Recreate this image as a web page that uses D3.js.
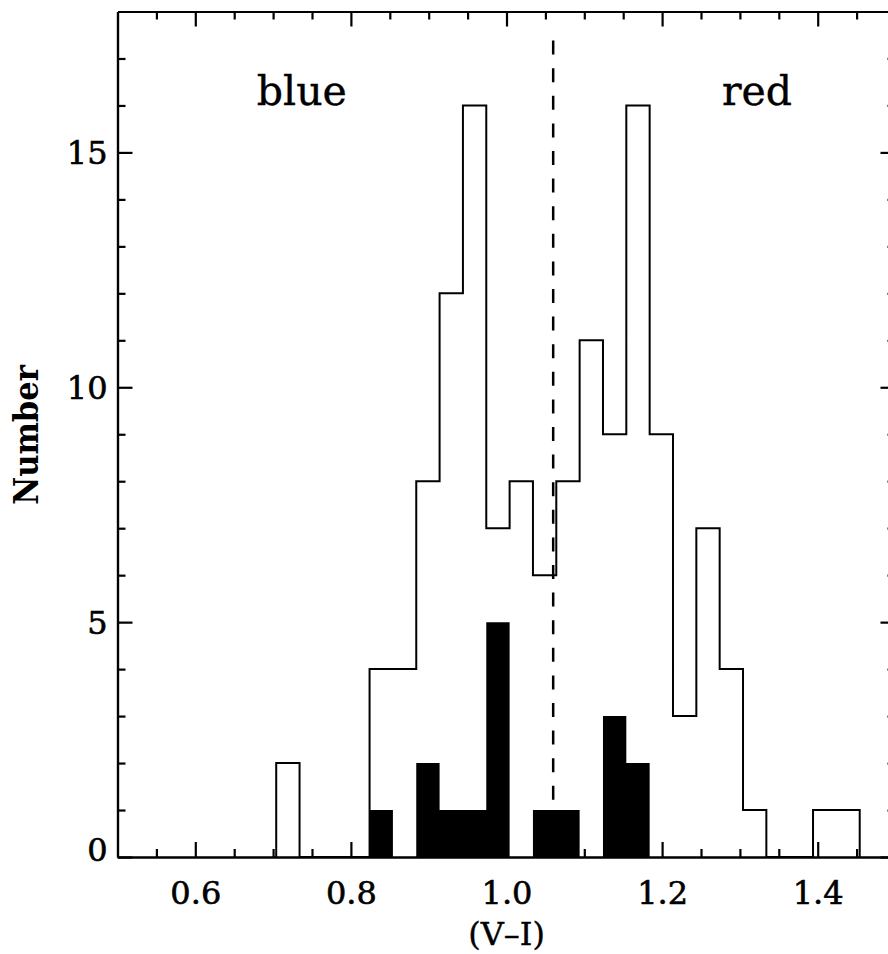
<!DOCTYPE html>
<html>
<head>
<meta charset="utf-8">
<script src="https://cdn.jsdelivr.net/npm/d3@7"></script>
<style>
    body { margin: 0; background: #fff; }
    svg { display: block; }
</style>
</head>
<body>
<div id="chart"></div>
<script>
// histogram bins: left edges of (V-I) bins, width 0.03
const binStart = 0.704;
const binWidth = 0.03;
const allCounts = [2, 0, 0, 0, 4, 4, 8, 12, 16, 7, 8, 6, 8, 11, 9, 16, 9, 3, 7, 4, 1, 0, 0, 1, 1];
const subCounts = [0, 0, 0, 0, 1, 0, 2, 1, 1, 5, 0, 1, 1, 0, 3, 2, 0, 0, 0, 0, 0, 0, 0, 0, 0];

const xMajorTicks = [0.6, 0.8, 1.0, 1.2, 1.4];
const yMajorTicks = [0, 5, 10, 15];
const divider = 1.06;
const dividerSpan = [1.15, 17.38];
const groupLabels = [
    { text: "blue", x: 0.737, y: 16 },
    { text: "red", x: 1.322, y: 16 }
];

const width = 888, height = 954;
const padding = { l: 117.5, t: 11.5, r: 895.5, b: 857 };

const x = d3.scaleLinear().domain([0.5, 1.5]).range([padding.l, padding.r]);
const y = d3.scaleLinear().domain([0, 18]).range([padding.b, padding.t]);

const svg = d3.select("#chart").append("svg")
    .attr("width", width)
    .attr("height", height);

const edge = i => binStart + i * binWidth;

const toSteps = counts => [{ v: edge(0), c: 0 }]
    .concat(counts.map((c, i) => ({ v: edge(i), c })))
    .concat([{ v: edge(counts.length), c: 0 }]);

// filled sub-sample
const stepArea = d3.area()
    .x(d => x(d.v))
    .y0(y(0))
    .y1(d => y(d.c))
    .curve(d3.curveStepAfter);

svg.append("path")
    .datum(toSteps(subCounts))
    .attr("d", stepArea)
    .attr("fill", "#000");

// open histogram outline
const stepLine = d3.line()
    .x(d => x(d.v))
    .y(d => y(d.c))
    .curve(d3.curveStepAfter);

svg.append("path")
    .datum(toSteps(allCounts))
    .attr("d", stepLine)
    .attr("fill", "none")
    .attr("stroke", "#000")
    .attr("stroke-width", 2);

// dividing line
svg.append("line")
    .attr("x1", x(divider))
    .attr("x2", x(divider))
    .attr("y1", y(dividerSpan[1]))
    .attr("y2", y(dividerSpan[0]))
    .attr("stroke", "#000")
    .attr("stroke-width", 2.5)
    .attr("stroke-dasharray", "14,13.6");

// axes
const xMinor = d3.range(0.55, 1.5, 0.05).filter(v => !xMajorTicks.some(t => Math.abs(t - v) < 1e-6));
const yMinor = d3.range(1, 18).filter(v => v % 5 !== 0);

function drawAxis(axisFn, scale, transform, major, minor, labels) {
    const g = svg.append("g").attr("transform", transform);
    g.call(axisFn(scale).tickValues(minor).tickSize(-8).tickSizeOuter(0).tickFormat(""));
    const gm = svg.append("g").attr("transform", transform);
    gm.call(axisFn(scale).tickValues(major).tickSize(-15).tickSizeOuter(0)
        .tickFormat(labels ? d3.format(scale === x ? ".1f" : "d") : ""));
    [g, gm].forEach(a => {
        a.selectAll("path, line").attr("stroke", "#000").attr("stroke-width", 2.2);
        a.attr("font-family", "'DejaVu Serif', serif").attr("font-size", 32);
        a.selectAll("text")
            .attr("fill", "#000")
            .attr("stroke", "#000")
            .attr("stroke-width", 0.6);
    });
    return gm;
}

const bottom = drawAxis(d3.axisBottom, x, `translate(0,${padding.b})`, xMajorTicks, xMinor, true);
bottom.selectAll("text").attr("y", 47).attr("dy", 0);

drawAxis(d3.axisTop, x, `translate(0,${padding.t})`, xMajorTicks, xMinor, false);

const left = drawAxis(d3.axisLeft, y, `translate(${padding.l},0)`, yMajorTicks, yMinor, true);
left.selectAll("text")
    .attr("x", -10)
    .attr("dy", "0.36em")
    .filter(d => d === 0)
    .attr("dy", "0.1em");

drawAxis(d3.axisRight, y, `translate(${padding.r},0)`, yMajorTicks, yMinor, false);

// group labels
svg.append("g")
    .selectAll("text")
    .data(groupLabels)
    .join("text")
    .attr("x", d => x(d.x))
    .attr("y", d => y(d.y))
    .attr("text-anchor", "middle")
    .attr("font-family", "'DejaVu Serif', serif")
    .attr("font-size", 41)
    .attr("stroke", "#000")
    .attr("stroke-width", 0.4)
    .text(d => d.text);

// axis titles
svg.append("text")
    .attr("transform", `translate(38, 435) rotate(-90)`)
    .attr("text-anchor", "middle")
    .attr("font-family", "'DejaVu Serif Condensed', 'DejaVu Serif', serif")
    .attr("font-weight", "bold")
    .attr("font-size", 34)
    .text("Number");

svg.append("text")
    .attr("x", x(1.0))
    .attr("y", 945)
    .attr("text-anchor", "middle")
    .attr("font-family", "'DejaVu Serif', serif")
    .attr("font-size", 32)
    .attr("stroke", "#000")
    .attr("stroke-width", 0.4)
    .text("(V–I)");
</script>
</body>
</html>
